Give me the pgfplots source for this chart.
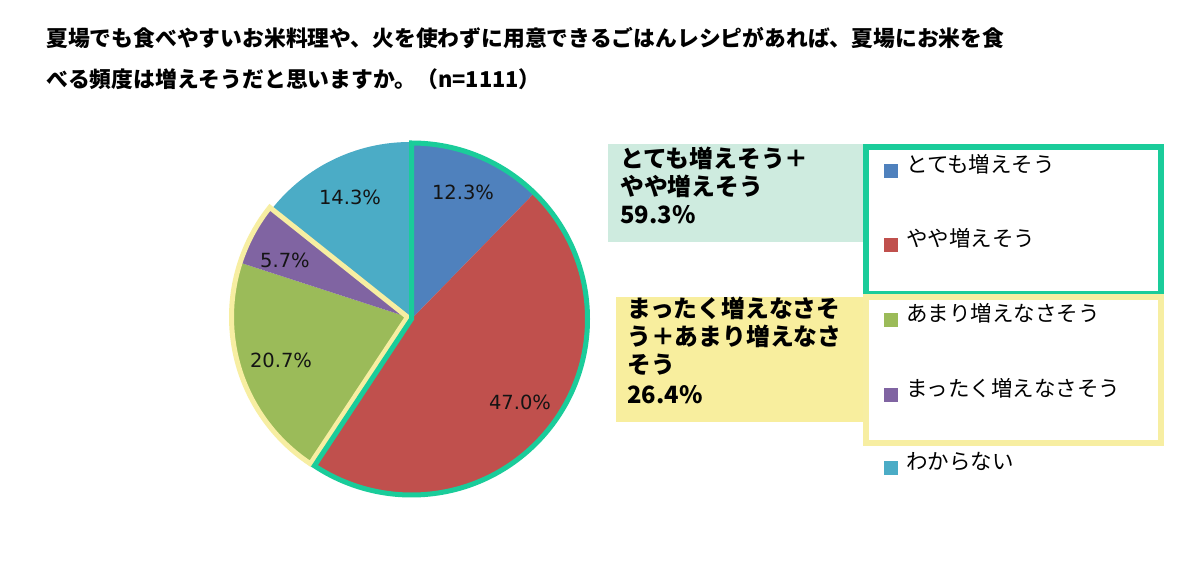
\documentclass[border=0pt]{standalone}
\usepackage{pgfplots}
\pgfplotsset{compat=1.18}
\usepackage{fontspec}
\newfontfamily\jp{Noto Sans CJK JP}
\newfontfamily\dv{DejaVu Sans}
\definecolor{cBlue}{RGB}{79,129,189}
\definecolor{cRed}{RGB}{192,80,77}
\definecolor{cGreen}{RGB}{155,187,89}
\definecolor{cPurple}{RGB}{128,100,162}
\definecolor{cTeal}{RGB}{75,172,198}
\definecolor{gLine}{RGB}{26,204,154}
\definecolor{gFill}{RGB}{206,235,223}
\definecolor{yLine}{RGB}{247,238,162}
\definecolor{yFill}{RGB}{248,238,158}
% slice: #1,#2 = center x,y ; #3 start cumulative %, #4 end cumulative %, #5 colour
\newcommand\slice[5]{%
  \fill[#5] (axis cs:#1,#2) -- ++({90-3.6*#3}:176pt)
    arc[start angle={90-3.6*#3}, end angle={90-3.6*#4}, radius=176pt] -- cycle;}
\newcommand\sliceline[5]{%
  \draw[#5, line width=5pt, line join=miter] (axis cs:#1,#2) -- ++({90-3.6*#3}:176pt)
    arc[start angle={90-3.6*#3}, end angle={90-3.6*#4}, radius=176pt] -- cycle;}
\tikzset{
  lab/.style={inner sep=0pt, anchor=west, text height=0.88em, text depth=0.12em,
    font=\jp\bfseries\fontsize{23.8}{28}\selectfont, text=black},
  leg/.style={inner sep=0pt, anchor=west, text height=0.88em, text depth=0.12em,
    font=\jp\fontsize{21.5}{25}\selectfont, text=black},
  pct/.style={inner sep=0pt, anchor=center, font=\dv\fontsize{19.5}{22}\selectfont, text={black!92}},
  ttl/.style={inner sep=0pt, anchor=west, text height=0.88em, text depth=0.12em,
    font=\jp\bfseries\fontsize{21.8}{26}\selectfont, text=black}
}
\begin{document}
\begin{tikzpicture}
\begin{axis}[x=1pt, y=1pt, xmin=0, xmax=1200, ymin=0, ymax=584,
  scale only axis, hide axis, clip=false, at={(0,0)}, anchor=south west]
\fill[white] (axis cs:0,0) rectangle (axis cs:1200,584);
% title
\node[ttl] at (axis cs:46,541) {夏場でも食べやすいお米料理や、火を使わずに用意できるごはんレシピがあれば、夏場にお米を食};
\node[ttl] at (axis cs:46,500) {べる頻度は増えそうだと思いますか。（n=1111）};
% pie: values 12.3, 47.0, 20.7, 5.7, 14.3 (%), clockwise from top
\slice{410}{266}{85.7}{100}{cTeal}
\slice{407.5}{267}{59.3}{80.0}{cGreen}
\slice{407.5}{267}{80.0}{85.7}{cPurple}
\sliceline{407.5}{267}{59.3}{85.7}{yLine}
\slice{411.5}{265}{0}{12.3}{cBlue}
\slice{411.5}{265}{12.3}{59.3}{cRed}
\sliceline{411.5}{265}{0}{59.3}{gLine}
% percentage labels
\node[pct] at (axis cs:463,392) {12.3\%};
\node[pct] at (axis cs:520,182) {47.0\%};
\node[pct] at (axis cs:281,224) {20.7\%};
\node[pct] at (axis cs:285,324) {5.7\%};
\node[pct] at (axis cs:350,387) {14.3\%};
% summary boxes
\fill[gFill] (axis cs:608,342) rectangle (axis cs:864,440);
\draw[gLine, line width=6pt] (axis cs:866,290) rectangle (axis cs:1161,437);
\fill[yFill] (axis cs:616,162) rectangle (axis cs:866,287);
\draw[yLine, line width=6pt] (axis cs:866,141) rectangle (axis cs:1161,287);
\node[lab] at (axis cs:620,420) {とても増えそう＋};
\node[lab] at (axis cs:620,392) {やや増えそう};
\node[lab] at (axis cs:620,364) {59.3\%};
\node[lab] at (axis cs:627,270) {まったく増えなさそ};
\node[lab] at (axis cs:627,242) {う＋あまり増えなさ};
\node[lab] at (axis cs:627,214) {そう};
\node[lab] at (axis cs:627,184) {26.4\%};
% legend
\fill[cBlue]   (axis cs:884,406) rectangle (axis cs:898,420);
\fill[cRed]    (axis cs:884,332) rectangle (axis cs:898,346);
\fill[cGreen]  (axis cs:884,257) rectangle (axis cs:898,271);
\fill[cPurple] (axis cs:884,182) rectangle (axis cs:898,196);
\fill[cTeal]   (axis cs:884,109) rectangle (axis cs:898,123);
\node[leg] at (axis cs:906,415) {とても増えそう};
\node[leg] at (axis cs:906,341) {やや増えそう};
\node[leg] at (axis cs:906,266) {あまり増えなさそう};
\node[leg] at (axis cs:906,191) {まったく増えなさそう};
\node[leg] at (axis cs:906,118) {わからない};
\end{axis}
\end{tikzpicture}
\end{document}
